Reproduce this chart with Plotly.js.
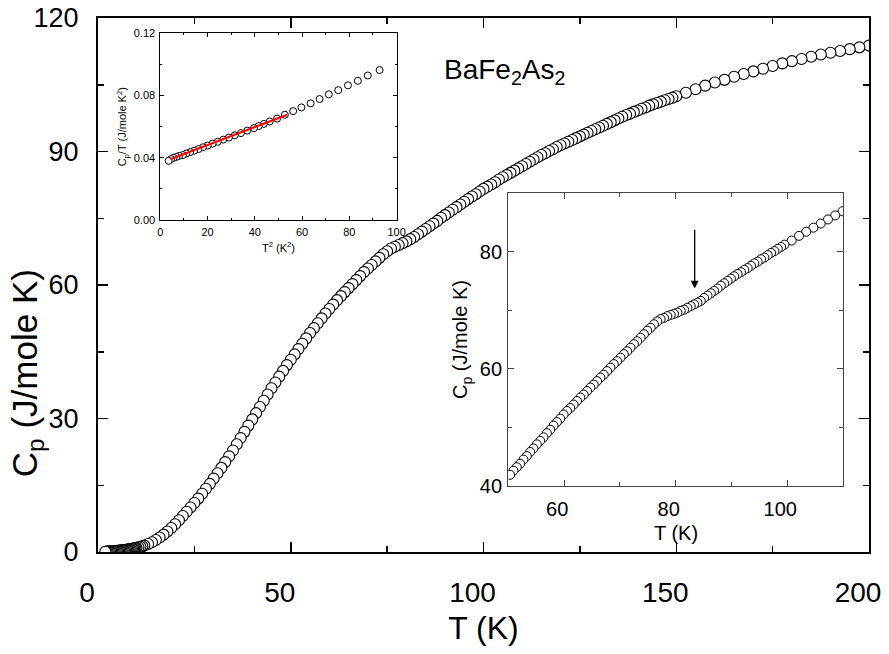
<!DOCTYPE html>
<html>
<head>
<meta charset="utf-8">
<script src="https://cdn.plot.ly/plotly-3.0.1.min.js"></script>
<style>html,body{margin:0;padding:0;background:#fff;}#chart{width:889px;height:654px;}</style>
</head>
<body>
<div id="chart"></div>
<script>
// Main panel: Cp vs T
const T_main = [1.9,2.2,2.5,2.8,3.1,3.4,3.7,4.0,4.3,4.6,4.9,5.2,5.5,5.8,6.1,6.4,6.7,7.0,7.3,7.6,7.9,8.2,8.5,8.8,9.1,9.4,9.7,10.0,10.5,11.0,11.5,12.0,
13,14,15,16,17,18,19,20,21,22,23,24,25,26,27,28,29,30,31,32,33,34,35,36,37,38,39,40,
41,42,43,44,45,46,47,48,49,50,51,52,53,54,55,56,57,58,59,60,61,62,63,64,65,66,67,68,69,70,
71,72,73,74,75,76,77,78,79,80,81,82,83,84,85,86,87,88,89,90,91,92,93,94,95,96,97,98,99,100,
101,102,103,104,105,106,107,108,109,110,111,112,113,114,115,116,117,118,119,120,
121,122,123,124,125,126,127,128,129,130,131,132,133,134,135,136,137,138,139,140,
141,142,143,144,145,146,147,148,149,150,
152.5,155,157.5,160,162.5,165,167.5,170,172.5,175,177.5,180,182.5,185,187.5,190,192.5,195,197.5,200];
const Cp_main = [0.07,0.08,0.10,0.11,0.13,0.15,0.17,0.18,0.20,0.23,0.25,0.27,0.30,0.33,0.36,0.39,0.42,0.46,0.50,0.54,0.58,0.62,0.67,0.72,0.77,0.83,0.89,0.95,1.05,1.17,1.30,1.44,
1.80,2.20,2.70,3.25,3.90,4.60,5.40,6.25,7.15,8.10,9.05,10.0,11.0,12.0,13.1,14.2,15.3,16.5,17.7,18.9,20.2,21.5,22.8,24.2,25.6,27.0,28.4,29.8,
31.2,32.6,34.0,35.4,36.8,38.1,39.4,40.7,42.0,43.2,44.4,45.6,46.8,48.0,49.2,50.3,51.4,52.5,53.6,54.6,55.6,56.6,57.5,58.4,59.3,60.2,61.1,62.0,62.9,63.7,
64.5,65.3,66.1,66.9,67.6,68.2,68.6,69.0,69.4,69.8,70.3,70.8,71.4,72.0,72.6,73.2,73.8,74.4,75.1,75.7,76.3,76.9,77.5,78.1,78.7,79.3,79.9,80.4,81.0,81.6,
82.1,82.6,83.1,83.7,84.2,84.7,85.2,85.7,86.2,86.7,87.2,87.7,88.2,88.7,89.2,89.6,90.1,90.5,91.0,91.4,
91.8,92.2,92.6,93.0,93.4,93.8,94.2,94.6,95.0,95.4,95.8,96.2,96.6,97.0,97.4,97.8,98.2,98.5,98.9,99.2,
99.6,99.9,100.3,100.6,100.9,101.2,101.5,101.8,102.1,102.4,
103.2,104.0,104.8,105.5,106.1,106.8,107.4,108.0,108.6,109.2,109.8,110.3,110.8,111.3,111.8,112.2,112.6,113.0,113.4,113.8];

// Upper-left inset: Cp/T vs T^2
const T2_low = [3.5,4.5,5.6,6.8,8.0,9.5,11.0,12.6,14.3,16.1,18.0,20.0,22.1,24.3,26.6,29.0,31.5,34.1,36.8,39.6,41.6,43.8,46.3,49.4,52.7,56.2,59.7,63.6,67.4,71.3,75.3,79.4,83.6,87.8,92.8];
const CpT_low = [0.0381,0.0392,0.0400,0.0406,0.0413,0.0418,0.0428,0.0437,0.0446,0.0456,0.0468,0.0479,0.0491,0.0503,0.0517,0.0530,0.0545,0.0559,0.0575,0.0591,0.0604,0.0618,0.0634,0.0652,0.0677,0.0700,0.0724,0.0750,0.0778,0.0808,0.0835,0.0866,0.0895,0.0929,0.0964];
const fit_T2 = [4.2, 53.7];
const fit_CpT = [0.0391, 0.0677];

// Lower-right inset: Cp vs T around the transition
const T_zoom = [50.3,50.9,51.5,52.1,52.7,53.3,53.9,54.5,55.1,55.7,56.3,56.9,57.5,58.1,58.7,59.3,59.9,60.5,61.1,61.7,62.3,62.9,63.5,64.1,64.7,65.3,65.9,66.5,67.1,67.7,68.3,68.9,69.5,70.1,70.7,71.3,71.9,72.5,73.1,73.7,74.3,74.9,75.5,76.1,76.7,77.3,77.9,78.5,79.1,79.7,80.3,80.9,81.5,82.1,82.7,83.3,83.9,84.5,85.1,85.7,86.3,86.9,87.5,88.1,88.7,89.3,89.9,90.5,91.1,91.7,92.3,92.9,93.5,94.1,94.7,95.3,95.9,96.5,97.1,97.7,98.3,98.9,99.5,100.8,102.1,103.4,104.7,106.0,107.3,108.6,109.9];
const Cp_zoom = [41.9,42.6,43.2,43.8,44.5,45.1,45.8,46.4,47.1,47.7,48.3,49.0,49.6,50.3,50.9,51.5,52.2,52.8,53.3,53.9,54.5,55.1,55.6,56.2,56.8,57.3,57.9,58.5,59.0,59.6,60.2,60.8,61.3,61.9,62.5,63.0,63.6,64.2,64.7,65.3,65.9,66.5,67.0,67.6,68.1,68.5,68.7,69.0,69.2,69.4,69.6,69.9,70.1,70.4,70.7,71.0,71.3,71.6,72.1,72.5,72.9,73.3,73.7,74.2,74.6,75.0,75.4,75.8,76.2,76.5,76.9,77.2,77.6,78.0,78.3,78.7,79.0,79.4,79.8,80.1,80.5,80.8,81.2,81.9,82.7,83.4,84.1,84.8,85.5,86.2,86.9];
const arrow_T = 83.4, arrow_from = 84.0, arrow_to = 73.7;

const FONT = 'Liberation Sans, Arial, Helvetica, sans-serif';
const rev = a => a.slice().reverse();

const traces = [
  {x: rev(T_main), y: rev(Cp_main), xaxis: 'x', yaxis: 'y', type: 'scatter', mode: 'markers',
   marker: {symbol: 'circle', size: 11, color: 'white', line: {color: 'black', width: 1.1}}},
  {x: rev(T2_low), y: rev(CpT_low), xaxis: 'x2', yaxis: 'y2', type: 'scatter', mode: 'markers',
   marker: {symbol: 'circle', size: 7, color: 'white', line: {color: 'black', width: 1}}},
  {x: fit_T2, y: fit_CpT, xaxis: 'x2', yaxis: 'y2', type: 'scatter', mode: 'lines',
   line: {color: '#ff0000', width: 2}},
  {x: rev(T_zoom), y: rev(Cp_zoom), xaxis: 'x3', yaxis: 'y3', type: 'scatter', mode: 'markers',
   marker: {symbol: 'circle', size: 9, color: 'white', line: {color: 'black', width: 1}}}
];

function ax(o) {
  return Object.assign({
    showgrid: false, zeroline: false, showline: true, linecolor: 'black',
    mirror: 'allticks', ticks: 'inside', tickcolor: 'black', fixedrange: true
  }, o);
}

const layout = {
  width: 889, height: 654,
  margin: {l: 98, r: 20, t: 18, b: 102},
  paper_bgcolor: 'white', plot_bgcolor: 'white',
  showlegend: false,
  font: {family: FONT, color: 'black'},
  xaxis: ax({domain: [0, 1], anchor: 'y', range: [0, 200], tick0: 0, dtick: 50,
    ticklen: 10, tickwidth: 1.5, linewidth: 2,
    minor: {dtick: 25, ticks: 'inside', ticklen: 6, tickwidth: 1.5, tickcolor: 'black'},
    tickfont: {size: 28, family: FONT}, ticklabelstandoff: 14, ticklabelshift: -11,
    ticklabeloverflow: 'allow',
    title: {text: 'T (K)', font: {size: 32, family: FONT}, standoff: 10}}),
  yaxis: ax({domain: [0, 1], anchor: 'x', range: [0, 120], tick0: 0, dtick: 30,
    ticklen: 10, tickwidth: 1.5, linewidth: 2,
    minor: {dtick: 15, ticks: 'inside', ticklen: 6, tickwidth: 1.5, tickcolor: 'black'},
    tickfont: {size: 27, family: FONT}, ticklabelstandoff: 12}),
  xaxis2: ax({domain: [0.0809, 0.3873], anchor: 'y2', range: [0, 100], tick0: 0, dtick: 20,
    ticklen: 4, tickwidth: 1, linewidth: 1,
    minor: {dtick: 10, ticks: 'inside', ticklen: 2, tickwidth: 1, tickcolor: 'black'},
    tickfont: {size: 11, family: FONT}, ticklabelstandoff: 2,
    title: {text: 'T<sup>2</sup> (K<sup>2</sup>)', font: {size: 11, family: FONT}, standoff: 6}}),
  yaxis2: ax({domain: [0.6215, 0.9713], anchor: 'x2', range: [0, 0.12], tick0: 0, dtick: 0.04,
    tickformat: '.2f', ticklen: 4, tickwidth: 1, linewidth: 1,
    minor: {dtick: 0.02, ticks: 'inside', ticklen: 2, tickwidth: 1, tickcolor: 'black'},
    tickfont: {size: 11, family: FONT}, ticklabelstandoff: 2,
    title: {text: 'C<sub>p</sub>/T (J/mole K<sup>2</sup>)', font: {size: 11, family: FONT}, standoff: 4}}),
  xaxis3: ax({domain: [0.5323, 0.9663], anchor: 'y3', range: [50, 110], tick0: 0, dtick: 20,
    ticklen: 6, tickwidth: 1, linewidth: 1.3, linecolor: '#444', tickcolor: '#444',
    minor: {dtick: 10, ticks: 'inside', ticklen: 4, tickwidth: 1, tickcolor: '#444'},
    tickfont: {size: 20, family: FONT}, ticklabelstandoff: 5, ticklabelshift: -7}),
  yaxis3: ax({domain: [0.1237, 0.6721], anchor: 'x3', range: [40, 90], tick0: 0, dtick: 20,
    ticklen: 6, tickwidth: 1, linewidth: 1.3, linecolor: '#444', tickcolor: '#444',
    minor: {dtick: 10, ticks: 'inside', ticklen: 4, tickwidth: 1, tickcolor: '#444'},
    tickfont: {size: 20, family: FONT}, ticklabelstandoff: 1,
    title: {text: 'C<sub>p</sub> (J/mole K)', font: {size: 20, family: FONT}, standoff: 6}}),
  annotations: [
    {text: 'C<sub>p</sub> (J/mole K)', textangle: -90, xref: 'paper', yref: 'paper',
     x: -0.092, y: 0.335, xanchor: 'center', yanchor: 'middle', showarrow: false,
     font: {size: 35, family: FONT, color: 'black'}},
    {text: 'T (K)', xref: 'x3', yref: 'paper', x: 80, y: 0.035, xanchor: 'center', yanchor: 'middle',
     showarrow: false, font: {size: 20, family: FONT, color: 'black'}},
    {text: 'BaFe<sub>2</sub>As<sub>2</sub>', xref: 'paper', yref: 'paper', x: 0.4466, y: 0.9007,
     xanchor: 'left', yanchor: 'middle', showarrow: false, font: {size: 28, family: FONT, color: 'black'}},
    {text: '', xref: 'x3', yref: 'y3', axref: 'x3', ayref: 'y3', x: arrow_T, y: arrow_to, ax: arrow_T, ay: arrow_from,
     showarrow: true, arrowhead: 2, arrowsize: 1.2, arrowwidth: 1.3, arrowcolor: 'black'}
  ]
};

Plotly.newPlot('chart', traces, layout, {displayModeBar: false, staticPlot: true});
</script>
</body>
</html>
